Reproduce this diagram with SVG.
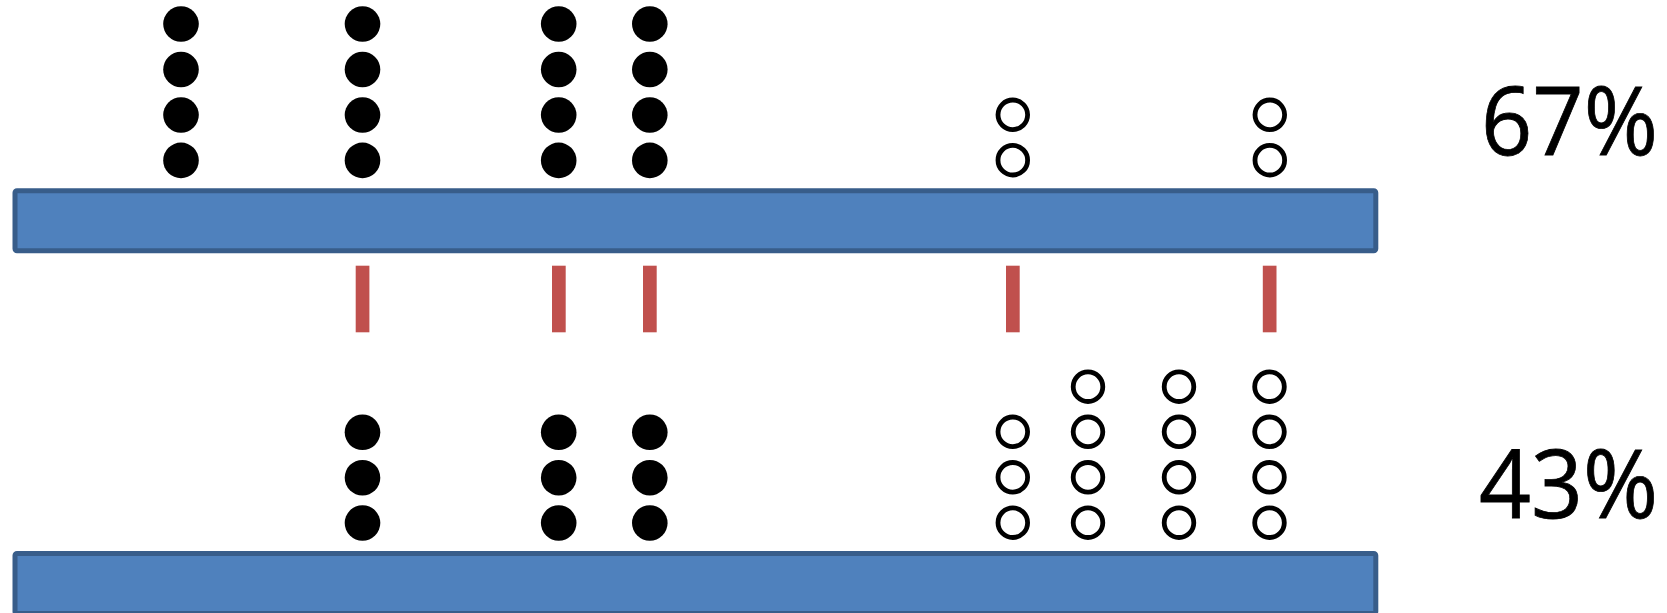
<svg xmlns="http://www.w3.org/2000/svg" width="1667" height="613" viewBox="0 0 1667 613">
<style>
.bar{fill:#4f81bd;stroke:#385d8a;stroke-width:5}
.f{fill:#000}
.h{fill:none;stroke:#000;stroke-width:4.8}
.tick{fill:#c0504d}
.pct{font-family:"Open Sans","Noto Sans",sans-serif;font-size:96px;fill:#000;stroke:#000;stroke-width:0.8}
</style>
<rect width="1667" height="613" fill="#fff"/>
<g id="bar-top"><rect class="bar" x="15" y="190.8" width="1360.8" height="60" rx="2"/></g>
<g id="bar-bottom"><rect class="bar" x="15" y="553.5" width="1360.8" height="60" rx="2"/></g>
<g id="dots-top">
<circle class="f" cx="181" cy="24" r="17.8"/><circle class="f" cx="181" cy="69.5" r="17.8"/><circle class="f" cx="181" cy="115" r="17.8"/><circle class="f" cx="181" cy="160.4" r="17.8"/>
<circle class="f" cx="362.5" cy="24" r="17.8"/><circle class="f" cx="362.5" cy="69.5" r="17.8"/><circle class="f" cx="362.5" cy="115" r="17.8"/><circle class="f" cx="362.5" cy="160.4" r="17.8"/>
<circle class="f" cx="558.7" cy="24" r="17.8"/><circle class="f" cx="558.7" cy="69.5" r="17.8"/><circle class="f" cx="558.7" cy="115" r="17.8"/><circle class="f" cx="558.7" cy="160.4" r="17.8"/>
<circle class="f" cx="649.8" cy="24" r="17.8"/><circle class="f" cx="649.8" cy="69.5" r="17.8"/><circle class="f" cx="649.8" cy="115" r="17.8"/><circle class="f" cx="649.8" cy="160.4" r="17.8"/>
<circle class="h" cx="1012.8" cy="114.8" r="14.8"/><circle class="h" cx="1012.8" cy="160.2" r="14.8"/>
<circle class="h" cx="1269.8" cy="114.8" r="14.8"/><circle class="h" cx="1269.8" cy="160.2" r="14.8"/>
</g>
<g id="ticks">
<rect class="tick" x="355.7" y="265.7" width="13.7" height="66.6"/>
<rect class="tick" x="552" y="265.7" width="13.7" height="66.6"/>
<rect class="tick" x="643" y="265.7" width="13.7" height="66.6"/>
<rect class="tick" x="1006" y="265.7" width="13.7" height="66.6"/>
<rect class="tick" x="1262.8" y="265.7" width="13.7" height="66.6"/>
</g>
<g id="dots-bottom">
<circle class="f" cx="362.5" cy="432.3" r="17.8"/><circle class="f" cx="362.5" cy="477.7" r="17.8"/><circle class="f" cx="362.5" cy="523" r="17.8"/>
<circle class="f" cx="558.7" cy="432.3" r="17.8"/><circle class="f" cx="558.7" cy="477.7" r="17.8"/><circle class="f" cx="558.7" cy="523" r="17.8"/>
<circle class="f" cx="649.8" cy="432.3" r="17.8"/><circle class="f" cx="649.8" cy="477.7" r="17.8"/><circle class="f" cx="649.8" cy="523" r="17.8"/>
<circle class="h" cx="1012.8" cy="431.8" r="14.8"/><circle class="h" cx="1012.8" cy="477.3" r="14.8"/><circle class="h" cx="1012.8" cy="522.7" r="14.8"/>
<circle class="h" cx="1088" cy="386.7" r="14.8"/><circle class="h" cx="1088" cy="431.8" r="14.8"/><circle class="h" cx="1088" cy="477.3" r="14.8"/><circle class="h" cx="1088" cy="522.7" r="14.8"/>
<circle class="h" cx="1179" cy="386.7" r="14.8"/><circle class="h" cx="1179" cy="431.8" r="14.8"/><circle class="h" cx="1179" cy="477.3" r="14.8"/><circle class="h" cx="1179" cy="522.7" r="14.8"/>
<circle class="h" cx="1269.5" cy="386.7" r="14.8"/><circle class="h" cx="1269.5" cy="431.8" r="14.8"/><circle class="h" cx="1269.5" cy="477.3" r="14.8"/><circle class="h" cx="1269.5" cy="522.7" r="14.8"/>
</g>
<g id="label-top"><text class="pct" x="1481" y="155" textLength="177" lengthAdjust="spacingAndGlyphs">67%</text></g>
<g id="label-bottom"><text class="pct" x="1479" y="518" textLength="179" lengthAdjust="spacingAndGlyphs">43%</text></g>
</svg>
